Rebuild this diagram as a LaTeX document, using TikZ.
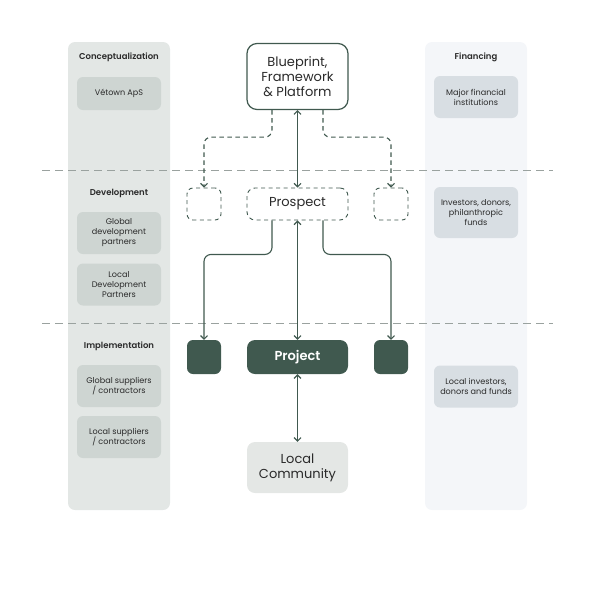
\documentclass[tikz,border=0pt]{standalone}
\usepackage{fontspec}
\setmainfont{Poppins}[BoldFont={Poppins SemiBold}]
\usetikzlibrary{arrows.meta}
\definecolor{pine}{HTML}{40594F}
\definecolor{ink}{HTML}{2A2A2A}
\definecolor{mist}{HTML}{E3E7E5}
\definecolor{sage}{HTML}{CED5D2}
\definecolor{frost}{HTML}{F4F6F9}
\definecolor{slate}{HTML}{D8DEE3}
\definecolor{rule}{HTML}{9AA29F}
\definecolor{stone}{HTML}{E4E7E5}
\begin{document}
\begin{tikzpicture}[x=1pt,y=-1pt,>={Straight Barb[length=3.5pt,width=7pt]},
	col/.style={rounded corners=7pt,minimum width=102pt,minimum height=468pt,inner sep=0pt},
	head/.style={font=\fontsize{8.5}{10}\selectfont\bfseries,text=ink},
	lbox/.style={rounded corners=6pt,minimum width=84pt,minimum height=42pt,inner sep=0pt,align=center,font=\fontsize{8.1}{10}\selectfont,text=ink},
	mbox/.style={rounded corners=8pt,minimum width=101pt,minimum height=33pt,inner sep=0pt,align=center,font=\fontsize{13}{15}\selectfont,text=ink},
	sbox/.style={rounded corners=6pt,minimum width=34pt,minimum height=33pt,inner sep=0pt},
	dbox/.style={draw=pine,dashed,dash pattern=on 4pt off 3.5pt,line width=.9pt},
	con/.style={draw=pine,line width=1.1pt,rounded corners=7pt},
	dcon/.style={con,dash pattern=on 4.5pt off 3.5pt},
	sep/.style={draw=rule,line width=.9pt,dash pattern=on 8pt off 5pt}]
	\useasboundingbox (0,0) rectangle (595,595);
	\node[col,fill=mist] (lcol) at (119,276) {};
	\node[col,fill=frost] (rcol) at (476,276) {};
	\node[head] (conc) at (119,57) {Conceptualization};
	\node[head] (dev) at (119,193) {Development};
	\node[head] (impl) at (119,346) {Implementation};
	\node[head] (fin) at (476,57) {Financing};
	\node[lbox,fill=sage,minimum height=33pt] (vetown) at (119,93.5) {Vétown ApS};
	\node[lbox,fill=sage] (gdp) at (119,233) {Global\\development\\partners};
	\node[lbox,fill=sage] (ldp) at (119,284.5) {Local\\Development\\Partners};
	\node[lbox,fill=sage] (gsc) at (119,386) {Global suppliers\\/ contractors};
	\node[lbox,fill=sage] (lsc) at (119,437) {Local suppliers\\/ contractors};
	\node[lbox,fill=slate] (mfi) at (476,97) {Major financial\\institutions};
	\node[lbox,fill=slate,minimum height=51pt] (idp) at (476,212.5) {Investors, donors,\\philanthropic\\funds};
	\node[lbox,fill=slate] (lidf) at (476,386.5) {Local investors,\\donors and funds};
	\draw[sep] (42,170) -- (553,170);
	\draw[sep] (42,323) -- (553,323);
	\node[mbox,draw=pine,line width=1.2pt,fill=white,minimum height=66pt,rounded corners=10pt] (blue) at (297.5,76.5) {Blueprint,\\Framework\\\& Platform};
	\node[mbox,dbox,minimum height=32pt] (pros) at (297.5,204) {Prospect};
	\node[sbox,dbox,minimum height=32pt] (pl) at (204,204) {};
	\node[sbox,dbox,minimum height=32pt] (pr) at (391,204) {};
	\node[mbox,fill=pine,minimum height=34pt,text=white,font=\fontsize{13}{15}\selectfont\bfseries] (proj) at (297.5,357) {Project};
	\node[sbox,fill=pine,minimum height=34pt] (jl) at (204,357) {};
	\node[sbox,fill=pine,minimum height=34pt] (jr) at (391,357) {};
	\node[mbox,fill=stone,minimum height=51pt] (comm) at (297.5,467.5) {Local\\Community};
	\draw[dcon,->] ([xshift=-25.5pt]blue.south) -- ++(0,27) -| (pl.north);
	\draw[dcon,->] ([xshift=25.5pt]blue.south) -- ++(0,27) -| (pr.north);
	\draw[con,<->] (blue.south) -- (pros.north);
	\draw[con,->] ([xshift=-25.5pt]pros.south) -- ++(0,34) -| (jl.north);
	\draw[con,->] ([xshift=25.5pt]pros.south) -- ++(0,34) -| (jr.north);
	\draw[con,<->] (pros.south) -- (proj.north);
	\draw[con,<->] (proj.south) -- (comm.north);
\end{tikzpicture}
\end{document}
